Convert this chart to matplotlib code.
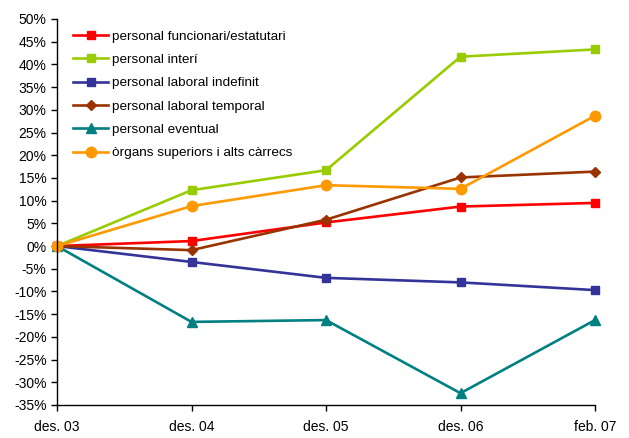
import matplotlib
matplotlib.use("Agg")
import matplotlib.pyplot as plt
from matplotlib.ticker import FuncFormatter, MultipleLocator

categories = ["des. 03", "des. 04", "des. 05", "des. 06", "feb. 07"]
funcionari = [0.0, 1.1, 5.2, 8.7, 9.5]
interi = [0.0, 12.3, 16.7, 41.7, 43.3]
laboral_indefinit = [0.0, -3.5, -7.0, -8.0, -9.7]
laboral_temporal = [0.0, -0.9, 5.8, 15.1, 16.4]
eventual = [0.0, -16.7, -16.3, -32.4, -16.3]
organs = [0.0, 8.8, 13.4, 12.6, 28.7]

labels = ["personal funcionari/estatutari", "personal interí", "personal laboral indefinit",
          "personal laboral temporal", "personal eventual", "òrgans superiors i alts càrrecs"]

plt.rcParams['font.family'] = ['Liberation Sans', 'DejaVu Sans']

fig = plt.figure(figsize=(6.29, 4.38), dpi=100)
ax = fig.add_axes([57/629, 1-405/438, (595-57)/629, (405-19)/438])

x = list(range(len(categories)))
series = [
    (funcionari, "#FF0000", "s", 6),
    (interi, "#99CC00", "s", 6),
    (laboral_indefinit, "#333399", "s", 6),
    (laboral_temporal, "#993300", "D", 5.5),
    (eventual, "#008080", "^", 7),
    (organs, "#FF9900", "o", 7.5),
]
for (vals, col, mk, ms), lab in zip(series, labels):
    ax.plot(x, vals, color=col, marker=mk, markersize=ms, linewidth=1.9, label=lab, clip_on=False)

ax.set_xlim(0, len(categories)-1)
ax.set_ylim(-35, 50)
ax.yaxis.set_major_locator(MultipleLocator(5))
ax.yaxis.set_major_formatter(FuncFormatter(lambda v, p: f"{int(round(v))}%"))
ax.set_xticks(x)
ax.set_xticklabels(categories)
for s in ["top", "right"]:
    ax.spines[s].set_visible(False)
for s in ["left", "bottom"]:
    ax.spines[s].set_color("black")
    ax.spines[s].set_linewidth(1)
ax.tick_params(axis='both', direction='out', length=4, width=1, labelsize=10, colors='black')
ax.tick_params(axis='x', pad=7)

leg = ax.legend(loc='upper left', bbox_to_anchor=(0.02, 0.985), frameon=False, fontsize=9.7,
                handlelength=2.6, labelspacing=0.81, handletextpad=0.25, borderaxespad=0)
fig.savefig("out.png", dpi=100)
